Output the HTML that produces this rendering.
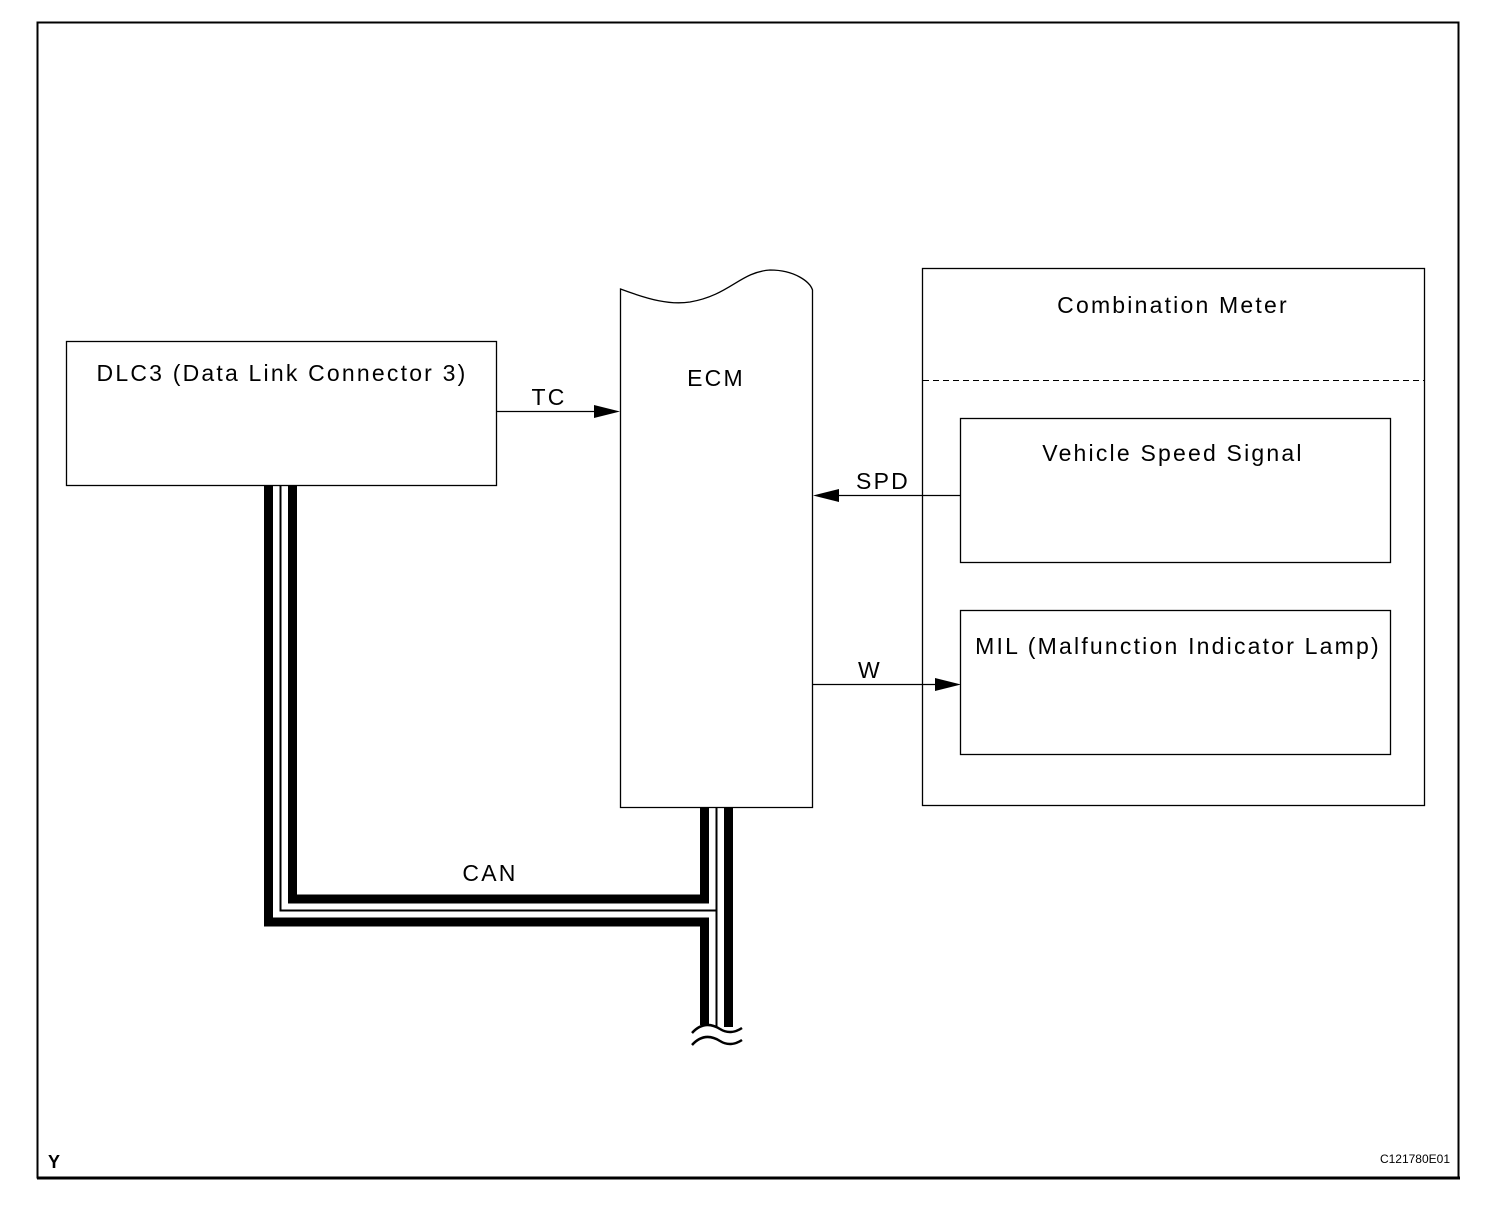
<!DOCTYPE html>
<html><head><meta charset="utf-8"><style>
html,body{margin:0;padding:0;background:#fff}
svg{display:block}
text{font-family:"Liberation Sans",Arial,sans-serif;fill:#000}
.l{font-size:23px;letter-spacing:2.2px}
</style></head><body>
<svg width="1504" height="1212" viewBox="0 0 1504 1212" xmlns="http://www.w3.org/2000/svg">
<rect x="0" y="0" width="1504" height="1212" fill="#fff"/>
<rect x="37.5" y="22.5" width="1421" height="1155" fill="none" stroke="#000" stroke-width="2"/>
<line x1="37" y1="1178" x2="1460" y2="1178" stroke="#000" stroke-width="3"/>
<text x="48" y="1168" font-size="18" font-weight="bold">Y</text>
<text x="1450" y="1163" font-size="12" text-anchor="end">C121780E01</text>

<rect x="66.5" y="341.5" width="430" height="144" fill="none" stroke="#000" stroke-width="1.3"/>
<text class="l" x="282" y="381" text-anchor="middle">DLC3 (Data Link Connector 3)</text>

<path d="M620.5,807.5 L620.5,289 C650,300 670,305 690,302 C730,295 740,272 770,270 C795,270 810,282 812.5,290 L812.5,807.5 Z" fill="none" stroke="#000" stroke-width="1.3"/>
<text class="l" x="716" y="386" text-anchor="middle">ECM</text>

<rect x="922.5" y="268.5" width="502" height="537" fill="none" stroke="#000" stroke-width="1.3"/>
<text class="l" x="1173" y="313" text-anchor="middle">Combination Meter</text>
<line x1="923" y1="380.5" x2="1424" y2="380.5" stroke="#000" stroke-width="1" stroke-dasharray="6,4"/>
<rect x="960.5" y="418.5" width="430" height="144" fill="none" stroke="#000" stroke-width="1.3"/>
<text class="l" x="1173" y="461" text-anchor="middle">Vehicle Speed Signal</text>
<rect x="960.5" y="610.5" width="430" height="144" fill="none" stroke="#000" stroke-width="1.3"/>
<text class="l" x="1178" y="654" text-anchor="middle">MIL (Malfunction Indicator Lamp)</text>

<line x1="497" y1="411.5" x2="600" y2="411.5" stroke="#000" stroke-width="1.3"/>
<polygon points="594,405 620,411.5 594,418" fill="#000"/>
<text class="l" x="549" y="405" text-anchor="middle">TC</text>
<line x1="835" y1="495.5" x2="960" y2="495.5" stroke="#000" stroke-width="1.3"/>
<polygon points="839,489 813,495.5 839,502" fill="#000"/>
<text class="l" x="883" y="489" text-anchor="middle">SPD</text>
<line x1="813" y1="684.5" x2="940" y2="684.5" stroke="#000" stroke-width="1.3"/>
<polygon points="935,678 961,684.5 935,691" fill="#000"/>
<text class="l" x="870" y="678" text-anchor="middle">W</text>

<text class="l" x="490" y="881" text-anchor="middle">CAN</text>
<path d="M268.5,486 L268.5,922 L704.5,922 L704.5,1025" fill="none" stroke="#000" stroke-width="9"/>
<path d="M292.5,486 L292.5,899 L704.5,899 L704.5,808" fill="none" stroke="#000" stroke-width="9"/>
<path d="M280.5,486 L280.5,910.5 L716.5,910.5" fill="none" stroke="#000" stroke-width="2"/>
<line x1="716.5" y1="808" x2="716.5" y2="1026" stroke="#000" stroke-width="2"/>
<line x1="728.5" y1="808" x2="728.5" y2="1027" stroke="#000" stroke-width="9"/>
<path d="M692,1033 C702,1022 712,1024 720,1029 C728,1034 736,1032 742,1028" fill="none" stroke="#000" stroke-width="2.5"/>
<path d="M692,1045 C702,1034 712,1036 720,1041 C728,1046 736,1044 742,1040" fill="none" stroke="#000" stroke-width="2.5"/>
</svg>
</body></html>
